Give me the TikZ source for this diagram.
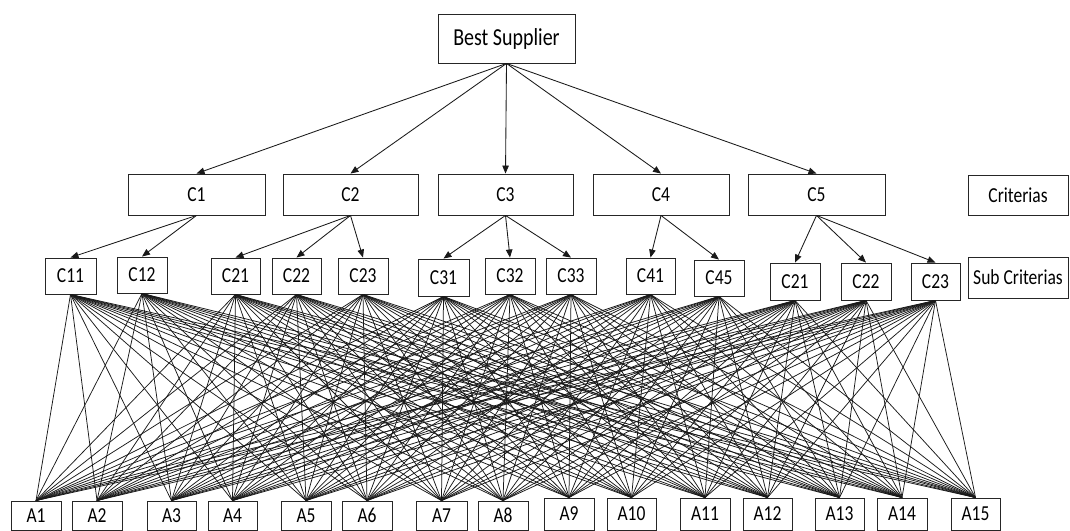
\documentclass[tikz,border=0pt]{standalone}
\usepackage{fontspec}
\usepackage{graphicx}
\setmainfont{Carlito}
\usetikzlibrary{arrows.meta}
\newcommand\vstr[1]{\scalebox{1}[1.22]{#1}}
\tikzset{
  box/.style={draw=black!85, line width=0.9pt, rectangle, inner sep=0pt, fill=white,
    font=\fontsize{17.5}{18}\selectfont},
  bigbox/.style={box, font=\fontsize{20}{21}\selectfont},
  arr/.style={draw=black!90, line width=0.85pt, -{Triangle[length=8pt,width=6.5pt]}},
  link/.style={draw=black!90, line width=0.75pt},
}
\begin{document}
\begin{tikzpicture}[x=1pt,y=-1pt]
\useasboundingbox (0,0) rectangle (1070,530);
% top
\node[bigbox, minimum width=137pt, minimum height=49pt] (bs) at (506.5,38.5) {\vstr{Best Supplier}};
% criteria, sub-criteria and alternative rows
\foreach \nm/\tx/\xa/\xb/\ya/\yb in {
  c1/C1/128/265/174/215, c2/C2/283/418/174/215, c3/C3/438/573/174/215,
  c4/C4/593/729/174/215, c5/C5/748/885/174/215, crit/Criterias/968/1068/175/215,
  c11/C11/45/96/258/294, c12/C12/117/167/257/293, c21/C21/211/260/258/294,
  c22/C22/272/321/258/294, c23/C23/338/388/258/294, c31/C31/418/469/259/296,
  c32/C32/485/535/258/294, c33/C33/546/596/258/294, c41/C41/626/675/258/294,
  c45/C45/694/744/260/296, c21b/C21/770/820/263/300, c22b/C22/841/891/263/300,
  c23b/C23/911/960/263/300, subcrit/Sub Criterias/968/1068/257/298,
  a1/A1/11/61/501/530, a2/A2/72/122/501/530, a3/A3/147/196/501/530,
  a4/A4/208/257/501/530, a5/A5/281/331/501/530, a6/A6/342/392/501/530,
  a7/A7/416/467/501/530, a8/A8/478/528/501/530, a9/A9/544/594/498/530,
  a10/A10/607/656/498/530, a11/A11/680/730/498/530, a12/A12/743/792/498/530,
  a13/A13/815/864/498/530, a14/A14/877/927/498/530, a15/A15/951/1000/498/530}
  \node[box, minimum width={(\xb-\xa)*1pt}, minimum height={(\yb-\ya)*1pt}]
    (\nm) at ({(\xa+\xb)/2},{(\ya+\yb)/2}) {\vstr{\tx}};
% links sub-criteria -> alternatives
\foreach \s in {c11,c12,c21,c22,c23,c31,c32,c33,c41,c45,c21b,c22b,c23b}
  \foreach \a in {a1,a2,a3,a4,a5,a6,a7,a8,a9,a10,a11,a12,a13,a14,a15}
    \draw[link] (\s.south) -- (\a.north);
% arrows
\foreach \c in {c1,c2,c3,c4,c5}
  \draw[arr] (bs.south) -- (\c.north);
\foreach \p/\c in {c1/c11,c1/c12,c2/c21,c2/c22,c2/c23,c3/c31,c3/c32,c3/c33,
  c4/c41,c4/c45,c5/c21b,c5/c22b,c5/c23b}
  \draw[arr] (\p.south) -- (\c.north);
\end{tikzpicture}
\end{document}
